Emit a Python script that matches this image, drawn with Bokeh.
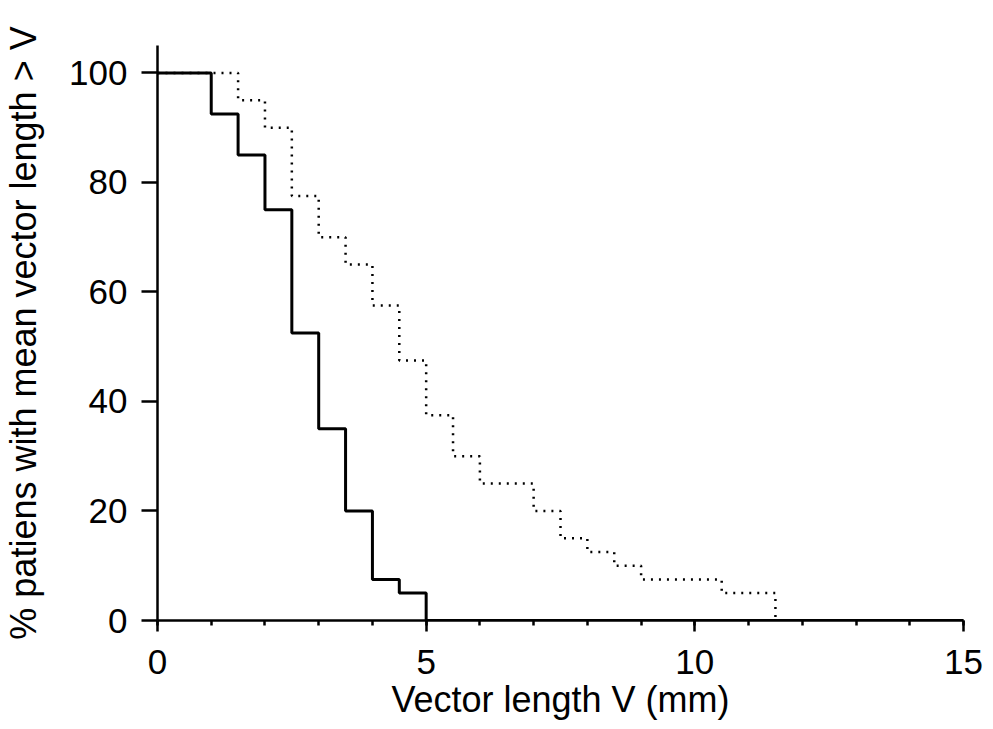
from bokeh.plotting import figure
from bokeh.models import Range1d, FixedTicker
from bokeh.embed import file_html
from bokeh.resources import INLINE

# Data
solid_x = [0, 1, 1.5, 2, 2.5, 3, 3.5, 4, 4.5, 5, 15]
solid_y = [100, 92.5, 85, 75, 52.5, 35, 20, 7.5, 5, 0, 0]

dotted_x = [0, 1.5, 2, 2.5, 3, 3.5, 4, 4.5, 5, 5.5, 6, 7, 7.5, 8, 8.5, 9, 10.5, 11.5, 15]
dotted_y = [100, 95, 90, 77.5, 70, 65, 57.5, 47.5, 37.5, 30, 25, 20, 15, 12.5, 10, 7.5, 5, 0, 0]

x_major = [0, 5, 10, 15]
x_minor = list(range(0, 16))
y_major = [0, 20, 40, 60, 80, 100]

FONT = "Liberation Sans"

p = figure(width=993, height=729, output_backend="svg", toolbar_location=None,
           x_range=Range1d(0, 15), y_range=Range1d(0, 105),
           min_border_left=154, min_border_right=30, min_border_top=45, min_border_bottom=109)
p.outline_line_color = None
p.xgrid.grid_line_color = None
p.ygrid.grid_line_color = None
p.background_fill_color = "white"
p.border_fill_color = "white"

p.step(dotted_x, dotted_y, mode="after", line_color="black", line_width=2.5, line_dash="2 6")
p.step(solid_x, solid_y, mode="after", line_color="black", line_width=3)

xa = p.xaxis[0]
xa.ticker = FixedTicker(ticks=x_major, minor_ticks=x_minor)
ya = p.yaxis[0]
ya.ticker = FixedTicker(ticks=y_major, minor_ticks=[])

for ax in (xa, ya):
    ax.axis_line_width = 2.5
    ax.axis_line_color = "black"
    ax.major_tick_line_width = 2.5
    ax.major_tick_line_color = "black"
    ax.minor_tick_line_width = 2.5
    ax.minor_tick_line_color = "black"
    ax.major_tick_in = 0
    ax.minor_tick_in = 0
    ax.major_label_text_font = FONT
    ax.major_label_text_font_size = "35px"
    ax.major_label_text_color = "black"
    ax.axis_label_text_font = FONT
    ax.axis_label_text_font_size = "36px"
    ax.axis_label_text_font_style = "normal"
    ax.axis_label_text_color = "black"

xa.axis_label = "Vector length V (mm)"
xa.major_tick_out = 11
xa.minor_tick_out = 5
xa.major_label_standoff = 18
xa.axis_label_standoff = 2

ya.axis_label = "% patiens with mean vector length > V"
ya.major_tick_out = 16
ya.minor_tick_out = 0
ya.major_label_standoff = 14
ya.axis_label_standoff = 22

open("out.html", "w").write(file_html(p, INLINE))
